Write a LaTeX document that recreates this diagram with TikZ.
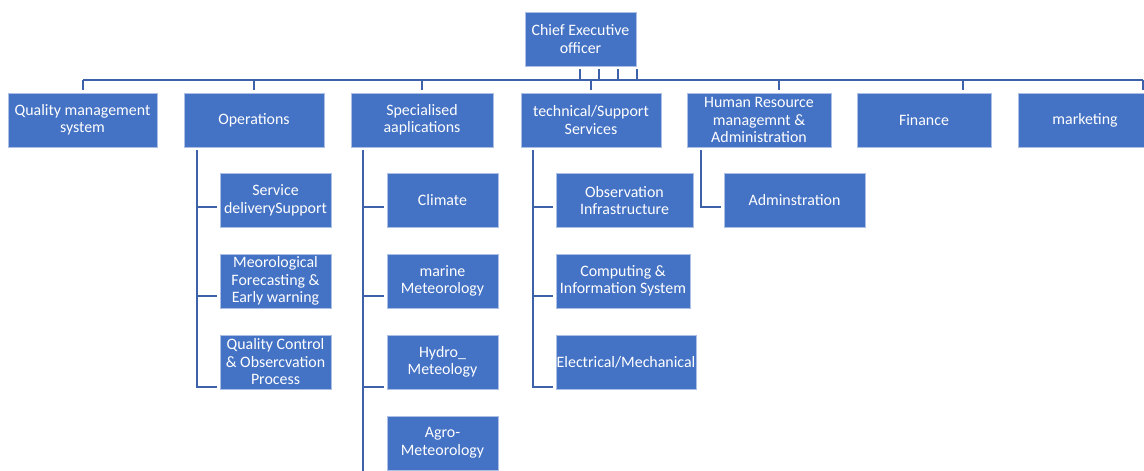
\documentclass[tikz,border=0pt]{standalone}
\usepackage{fontspec}
\setmainfont{Carlito}

\definecolor{unitblue}{RGB}{68,114,196}
\definecolor{lineblue}{RGB}{62,98,170}

\tikzset{
	unit/.style={draw=unitblue!45!white, line width=0.6pt, fill=unitblue, text=white,
		align=center, minimum height=54, inner sep=0pt, font=\fontsize{15.9}{17.5}\selectfont},
	link/.style={draw=lineblue, line width=2.6pt},
}

\begin{document}
\begin{tikzpicture}[x=1pt,y=-1pt]
		\useasboundingbox (0,0) rectangle (1144,471);
		\def\bary{80}    % main bar
		\def\topy{150}   % start of the branch lines
		
		% chief and heads of department
		\node[unit,minimum width=111] (ceo) at (580.5,39) {Chief Executive\\officer};
		\node[unit,minimum width=149] (qms) at (82.5,120) {Quality management\\system};
		\node[unit,minimum width=140] (ops) at (254,120) {Operations};
		\node[unit,minimum width=142] (spa) at (422,120) {Specialised\\aaplications};
		\node[unit,minimum width=140] (tss) at (591,120) {technical/Support\\Services};
		\node[unit,minimum width=144] (hrm) at (759,120) {Human Resource\\managemnt \&\\Administration};
		\node[unit,minimum width=134] (fin) at (924,120) {Finance};
		\node[unit,minimum width=134] (mkt) at (1085,120) {marketing};
		
		% sections
		\node[unit,minimum width=111] (sds) at (275.5,200.5) {Service\\deliverySupport};
		\node[unit,minimum width=111] (mfe) at (275.5,281) {Meorological\\Forecasting \&\\Early warning};
		\node[unit,minimum width=111] (qco) at (275.5,362) {Quality Control\\\& Obsercvation\\Process};
		\node[unit,minimum width=111] (cli) at (442.5,200.5) {Climate};
		\node[unit,minimum width=111] (mar) at (442.5,281) {marine\\Meteorology};
		\node[unit,minimum width=111] (hyd) at (442.5,362) {Hydro\_\\Meteology};
		\node[unit,minimum width=111] (agr) at (442.5,443) {Agro-\\Meteorology};
		\node[unit,minimum width=137] (obs) at (624.5,200.5) {Observation\\Infrastructure};
		\node[unit,minimum width=134] (cis) at (623,281) {Computing \&\\Information System};
		\node[unit,minimum width=140] (ele) at (626,362) {Electrical/Mechanical};
		\node[unit,minimum width=141] (adm) at (794.5,200.5) {Adminstration};
		
		% main bar
		\coordinate (b1) at (83,\bary);
		\coordinate (b2) at (254,\bary);
		\coordinate (b3) at (422,\bary);
		\coordinate (b4) at (591,\bary);
		\coordinate (b5) at (779,\bary);
		\coordinate (b6) at (963,\bary);
		\coordinate (b7) at (1143,\bary);
		\draw[link] (b1) -- (b7);
		\foreach \b/\n in {b1/qms,b2/ops,b3/spa,b4/tss,b5/hrm,b6/fin,b7/mkt}
			\draw[link,shorten >=3] (\b) -- (\b |- \n.north);
		
		% chief down to the bar
		\foreach \x [count=\i] in {580,599,618,637} {
			\coordinate (c\i) at (\x,\bary);
			\draw[link,shorten <=3] (ceo.south -| c\i) -- (c\i);
		}
		
		% operations
		\coordinate (o0) at (197,\topy);
		\coordinate (o1) at (197,207);
		\coordinate (o2) at (197,296);
		\coordinate (o3) at (197,387);
		\draw[link,shorten >=3] (o0) -- (o3) -- (o3 -| qco.west);
		\draw[link,shorten >=3] (o1) -- (o1 -| sds.west);
		\draw[link,shorten >=3] (o2) -- (o2 -| mfe.west);
		
		% specialised applications
		\coordinate (s0) at (363,\topy);
		\coordinate (s4) at (363,471);
		\draw[link] (s0) -- (s4);
		\foreach \y/\n in {207/cli,296/mar,387/hyd}
			\draw[link,shorten >=3] (363,\y) -- (\n.west |- 0,\y);
		
		% technical support
		\coordinate (t0) at (533,\topy);
		\coordinate (t1) at (533,207);
		\coordinate (t2) at (533,296);
		\coordinate (t3) at (533,387);
		\draw[link,shorten >=3] (t0) -- (t3) -- (t3 -| ele.west);
		\draw[link,shorten >=3] (t1) -- (t1 -| obs.west);
		\draw[link,shorten >=3] (t2) -- (t2 -| cis.west);
		
		% human resource
		\coordinate (h0) at (701,\topy);
		\coordinate (h1) at (701,207);
		\draw[link,shorten >=3] (h0) -- (h1) -- (h1 -| adm.west);
		
	\end{tikzpicture}
\end{document}
